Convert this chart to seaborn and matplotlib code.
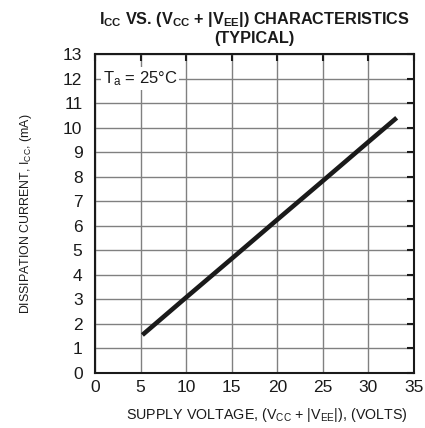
import matplotlib
matplotlib.use("Agg")
import matplotlib.pyplot as plt
import seaborn as sns
import pandas as pd

# Data
supply_voltage = [5.2, 10, 15, 20, 25, 30, 33.1]
dissipation_current = [1.55, 3.08, 4.66, 6.25, 7.83, 9.42, 10.4]
x_ticks = [0, 5, 10, 15, 20, 25, 30, 35]
y_ticks = list(range(0, 14))

sns.set_theme(style="white")
plt.rcParams['font.family'] = ['Liberation Sans', 'DejaVu Sans']
plt.rcParams['mathtext.default'] = 'regular'

df = pd.DataFrame({"V": supply_voltage, "I": dissipation_current})

W, H = 425, 428
fig = plt.figure(figsize=(W/100, H/100), dpi=100)
L, R, B, T = 95, 414, 373, 54
ax = fig.add_axes([L/W, 1-B/H, (R-L)/W, (B-T)/H])

sns.lineplot(data=df, x="V", y="I", ax=ax, color="#1a1a1a", linewidth=3.3,
             solid_capstyle="butt", zorder=3)

ax.set_xlim(0, 35)
ax.set_ylim(0, 13)
ax.set_xticks(x_ticks)
ax.set_yticks(y_ticks)
ax.grid(True, color="#808080", linewidth=1.0)
ax.tick_params(axis="both", direction="in", length=5, width=1.5, color="#1a1a1a",
               labelsize=12.5, top=True, right=True, labelcolor="#1a1a1a")
ax.tick_params(axis="x", pad=5)
ax.tick_params(axis="y", pad=9)
for s in ax.spines.values():
    s.set_color("#1a1a1a")
    s.set_linewidth(1.5)

xl = ax.set_xlabel("SUPPLY VOLTAGE, (V$_{CC}$ + |V$_{EE}$|), (VOLTS)", fontsize=9,
                   color="#1a1a1a")
yl = ax.set_ylabel("DISSIPATION CURRENT, I$_{CC}$, (mA)", fontsize=9,
                   color="#1a1a1a")
tt = ax.set_title("I$_{CC}$ VS. (V$_{CC}$ + |V$_{EE}$|) CHARACTERISTICS\n(TYPICAL)",
                  fontsize=11, fontweight="bold", color="#1a1a1a", linespacing=1.15)
ta = ax.text(0.85, 12, "T$_a$ = 25°C", fontsize=12, va="center", ha="left",
             color="#1a1a1a", zorder=4,
             bbox=dict(facecolor="white", edgecolor="none", pad=1.5))

# fit text sizes to measured widths in the reference
renderer = fig.canvas.get_renderer()
def fit(txt, target, horizontal=True):
    for _ in range(3):
        bb = txt.get_window_extent(renderer)
        size = bb.width if horizontal else bb.height
        txt.set_fontsize(txt.get_fontsize() * target / size)

fit(xl, 280)
fit(yl, 200, horizontal=False)
fit(ta, 75)
fit(tt, 310)

xl.set_va("center")
ax.xaxis.set_label_coords((267 - L)/(R-L), (B-415)/(B-T))
yl.set_va("center")
ax.yaxis.set_label_coords((26-L)/(R-L), 0.5)
tt.set_va("bottom")
tt.set_position((0.5, 1 + (T-43)/(B-T)))

fig.savefig("out.png", dpi=100)
